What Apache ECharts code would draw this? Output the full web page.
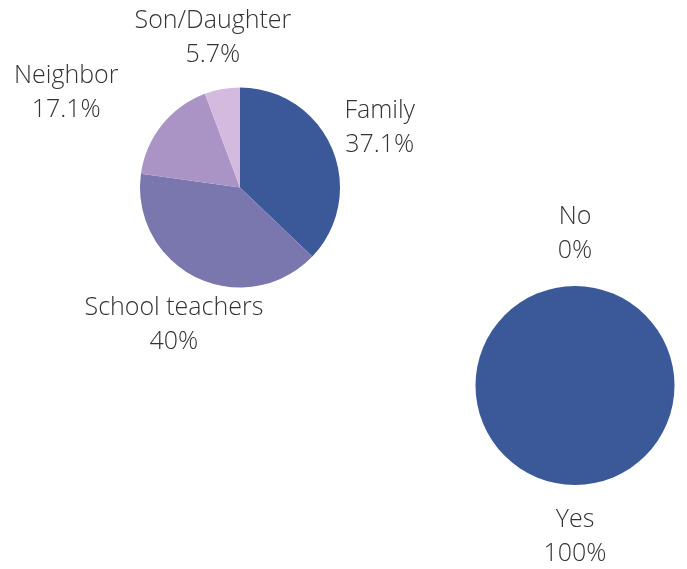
<!DOCTYPE html>
<html>
<head>
<meta charset="utf-8">
<script src="https://cdn.jsdelivr.net/npm/echarts@6/dist/echarts.min.js"></script>
<style>
  html, body { margin: 0; padding: 0; background: #ffffff; }
  #chart { width: 687px; height: 569px; }
</style>
</head>
<body>
<div id="chart"></div>
<script>
// ---- data ----
const sourceNames = ["Family", "School teachers", "Neighbor", "Son/Daughter"];
const sourceValues = [37.1, 40, 17.1, 5.7];
const answerNames = ["Yes", "No"];
const answerValues = [100, 0];

// ---- styles ----
const sourceColors = ["#3b5998", "#7a77ae", "#a994c5", "#d5badf"];
const answerColors = ["#3b5998", "#7a77ae"];
const labelShift = { "Neighbor": -55 };

const chart = echarts.init(document.getElementById('chart'), null, { renderer: 'canvas' });

const labelStyle = {
  show: true,
  position: 'outside',
  formatter: p => p.name + '\n' + p.value + '%',
  fontFamily: '"Open Sans", sans-serif',
  fontWeight: 300,
  fontSize: 25,
  lineHeight: 34,
  color: '#333333'
};

function layoutFn(params) {
  const pts = params.labelLinePoints;
  if (!pts) return {};
  const shift = labelShift[params.text.split('\n')[0]] || 0;
  return {
    x: pts[1][0] + shift,
    y: pts[1][1],
    align: 'center',
    verticalAlign: 'middle'
  };
}

function makeData(names, values, colors) {
  return names.map((n, i) => ({ name: n, value: values[i], itemStyle: { color: colors[i] } }));
}

chart.setOption({
  animation: false,
  series: [
    {
      type: 'pie',
      center: [240, 187.5],
      radius: [0, 100],
      startAngle: 90,
      clockwise: true,
      avoidLabelOverlap: false,
      minShowLabelAngle: -1,
      label: labelStyle,
      labelLine: { show: true, length: 52, length2: 0, lineStyle: { opacity: 0, width: 0 } },
      labelLayout: layoutFn,
      itemStyle: { borderWidth: 0 },
      emphasis: { disabled: true },
      data: makeData(sourceNames, sourceValues, sourceColors)
    },
    {
      type: 'pie',
      center: [575, 385.5],
      radius: [0, 99.5],
      startAngle: 90,
      clockwise: true,
      avoidLabelOverlap: false,
      minShowLabelAngle: -1,
      label: labelStyle,
      labelLine: { show: true, length: 52, length2: 0, lineStyle: { opacity: 0, width: 0 } },
      labelLayout: layoutFn,
      itemStyle: { borderWidth: 0 },
      emphasis: { disabled: true },
      data: makeData(answerNames, answerValues, answerColors)
    }
  ]
});
</script>
</body>
</html>
